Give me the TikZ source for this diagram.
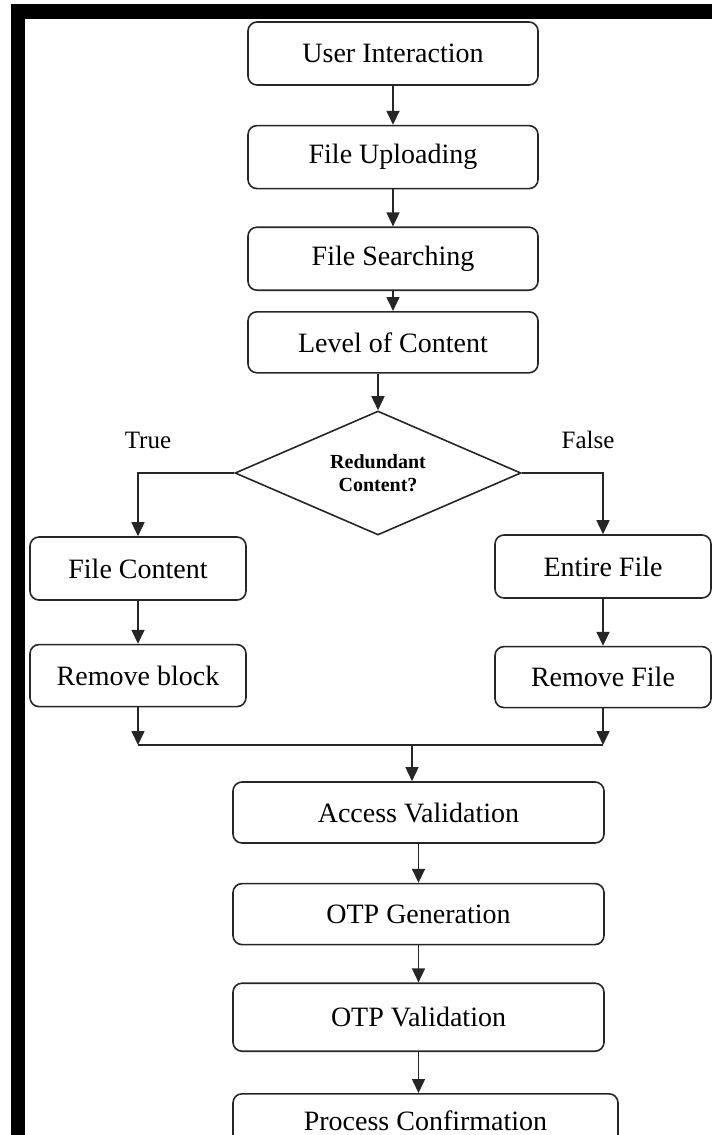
\documentclass[tikz,border=0pt]{standalone}
\usepackage{fontspec}
\setmainfont{Liberation Serif}
\usetikzlibrary{positioning,shapes.geometric,arrows.meta}
\tikzset{
  box/.style = {draw=black!85, line width=1.6pt, rounded corners=9pt,
    minimum width=290pt, minimum height=63pt, inner sep=0pt,
    font=\fontsize{28}{32}\selectfont},
  decision/.style = {diamond, aspect=2.3, draw=black!85, line width=1.6pt,
    minimum width=286pt, minimum height=124pt, inner sep=0pt, align=center,
    font=\bfseries\fontsize{20}{23}\selectfont},
  flow/.style = {-{Triangle[length=14pt,width=13pt]}, line width=1.6pt, black!85},
  link/.style = {line width=1.6pt, black!85},
  tag/.style = {font=\fontsize{25}{30}\selectfont}
}

\begin{document}
\begin{tikzpicture}[x=1pt,y=1pt]
  \useasboundingbox (0,0) rectangle (712,-1135);
  \clip (0,0) rectangle (712,-1135);
  % frame
  \fill[black] (11,-4) rectangle (712,-19);
  \fill[black] (11,-4) rectangle (25,-1135);

  \node[box] (ui) at (393,-53.5) {User Interaction};
  \node[box, below=39pt of ui] (fu) {File Uploading};
  \node[box, below=37pt of fu] (fs) {File Searching};
  \node[box, minimum height=61pt, below=20pt of fs] (lc) {Level of Content};
  \node[decision] (dec) at (378,-473) {Redundant\\Content?};
  \node[tag] (yes) at (148,-440) {True};
  \node[tag] (no) at (588,-440) {False};

  \node[box, minimum width=216pt] (fc) at (138,-568.5) {File Content};
  \node[box, minimum width=216pt, minimum height=62pt, below=43pt of fc] (rb) {Remove block};
  \node[box, minimum width=216pt] (ef) at (603,-566.5) {Entire File};
  \node[box, minimum width=216pt, minimum height=61pt, below=47pt of ef] (rf) {Remove File};

  \coordinate (join) at (412,-745);
  \node[box, minimum width=371pt, minimum height=61pt] (av) at (418.5,-812.5) {Access Validation};
  \node[box, minimum width=371pt, minimum height=61pt, below=39pt of av] (og) {OTP Generation};
  \node[box, minimum width=371pt, minimum height=68pt, below=37pt of og] (ov) {OTP Validation};
  \node[box, minimum width=385pt, minimum height=54pt, below=41pt of ov, xshift=7pt] (pc) {Process Confirmation};

  % arrows
  \draw[flow] (ui) -- (fu);
  \draw[flow] (fu) -- (fs);
  \draw[flow] (fs) -- (lc);
  \draw[flow] (lc.south -| dec.north) -- (dec.north);
  \draw[flow] (dec.west) -| (fc.north);
  \draw[flow] (dec.east) -| (ef.north);
  \draw[flow] (fc) -- (rb);
  \draw[flow] (ef) -- (rf);
  \draw[flow] (rb.south) -- (rb.south |- join);
  \draw[flow] (rf.south) -- (rf.south |- join);
  \draw[link] (rb.south |- join) -- (rf.south |- join);
  \draw[flow] (join) -- (join |- av.north);
  \draw[flow] (av) -- (og);
  \draw[flow] (og) -- (ov);
  \draw[flow] (ov.south) -- (ov.south |- pc.north);
\end{tikzpicture}
\end{document}
